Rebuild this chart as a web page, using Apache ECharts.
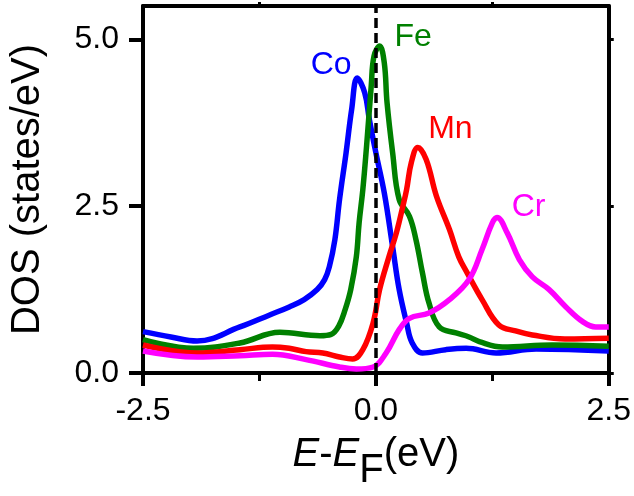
<!DOCTYPE html>
<html>
<head>
    <meta charset="utf-8">
    <title>DOS</title>
    <script src="https://cdn.jsdelivr.net/npm/echarts@6/dist/echarts.min.js"></script>
</head>
<body>
<style>
    html, body, #main {
        width: 100%;
        height: 100%;
        padding: 0;
        margin: 0;
        background: #fff;
    }
</style>

<div id="main"></div>

<script type="text/javascript">
// values: energy (eV) and DOS (states/eV)
var coE   = [-2.5, -2.2, -1.92, -1.46, -1.14, -0.93, -0.77, -0.63, -0.55, -0.5, -0.44, -0.39, -0.32, -0.26, -0.2, -0.12, -0.07, 0.0, 0.09, 0.18, 0.25, 0.33, 0.39, 0.5, 0.75, 0.97, 1.29, 1.72, 2.5];
var coDos = [0.62, 0.54, 0.48, 0.69, 0.87, 0.99, 1.1, 1.25, 1.4, 1.59, 2.0, 2.6, 3.3, 3.95, 4.42, 4.2, 3.8, 3.3, 2.7, 1.89, 1.25, 0.75, 0.45, 0.3, 0.35, 0.37, 0.3, 0.36, 0.33];

var feE   = [-2.5, -1.96, -1.46, -1.03, -0.6, -0.48, -0.4, -0.33, -0.27, -0.21, -0.18, -0.14, -0.1, -0.05, -0.02, 0.04, 0.09, 0.12, 0.18, 0.25, 0.36, 0.43, 0.5, 0.57, 0.68, 0.86, 1.0, 1.11, 1.36, 1.89, 2.5];
var feDos = [0.5, 0.37, 0.45, 0.61, 0.56, 0.58, 0.7, 0.95, 1.25, 1.74, 2.25, 2.75, 3.4, 4.3, 4.75, 4.9, 4.65, 4.05, 3.3, 2.6, 2.35, 2.0, 1.5, 1.05, 0.69, 0.6, 0.54, 0.47, 0.39, 0.42, 0.4];

var mnE   = [-2.5, -1.92, -1.46, -1.11, -0.93, -0.75, -0.57, -0.39, -0.25, -0.14, -0.03, 0.04, 0.14, 0.22, 0.29, 0.33, 0.38, 0.45, 0.54, 0.65, 0.79, 0.89, 0.98, 1.14, 1.32, 1.5, 1.68, 2.03, 2.5];
var mnDos = [0.42, 0.3, 0.35, 0.39, 0.37, 0.32, 0.3, 0.24, 0.21, 0.35, 0.75, 1.25, 1.74, 2.1, 2.5, 2.75, 3.15, 3.38, 3.2, 2.65, 2.15, 1.74, 1.5, 1.1, 0.72, 0.63, 0.57, 0.51, 0.52];

var crE   = [-2.5, -1.92, -1.46, -1.11, -0.75, -0.39, -0.21, -0.03, 0.11, 0.25, 0.36, 0.57, 0.79, 1.0, 1.14, 1.25, 1.3, 1.41, 1.54, 1.68, 1.86, 2.04, 2.22, 2.36, 2.5];
var crDos = [0.33, 0.24, 0.26, 0.28, 0.2, 0.09, 0.06, 0.09, 0.3, 0.65, 0.82, 0.9, 1.1, 1.4, 1.85, 2.25, 2.33, 2.1, 1.7, 1.44, 1.25, 0.99, 0.77, 0.69, 0.69];

var names  = ['Co', 'Fe', 'Mn', 'Cr'];
var colors = ['#0000ff', '#008000', '#ff0000', '#ff00ff'];
// where the element names sit, in data units
var tagPos = [[-0.48, 4.61], [0.40, 5.03], [0.80, 3.65], [1.64, 2.49]];

var yTicks = [0, 2.5, 5];
var font = 'Liberation Sans, Arial, sans-serif';

function pairs(xs, ys) {
    return xs.map(function (x, i) { return [x, ys[i]]; });
}

var chart = echarts.init(document.getElementById('main'));

var curves = [pairs(coE, coDos), pairs(feE, feDos), pairs(mnE, mnDos), pairs(crE, crDos)];

var series = curves.map(function (d, i) {
    return {
        name: names[i],
        type: 'line',
        data: d,
        smooth: 0.4,
        showSymbol: false,
        symbol: 'none',
        clip: true,
        lineStyle: { color: colors[i], width: 5.5 },
        itemStyle: { color: colors[i] },
        markPoint: {
            symbol: 'circle',
            symbolSize: 0,
            silent: true,
            label: {
                show: true,
                position: 'inside',
                color: colors[i],
                fontSize: 32,
                fontFamily: font,
                formatter: names[i]
            },
            data: [{ coord: tagPos[i] }]
        }
    };
});

// Fermi level
series[0].markLine = {
    silent: true,
    symbol: 'none',
    label: { show: false },
    lineStyle: { color: '#000', type: [10, 5], width: 3.5 },
    data: [{ xAxis: 0 }]
};

chart.setOption({
    animation: false,
    textStyle: { fontFamily: font },
    grid: { left: 143, right: 24, top: 6, bottom: 123 },
    xAxis: [{
        type: 'value',
        min: -2.5,
        max: 2.5,
        interval: 2.5,
        position: 'bottom',
        axisLine: { onZero: false, lineStyle: { color: '#000', width: 4 } },
        axisTick: { length: 13, lineStyle: { color: '#000', width: 4 } },
        minorTick: { show: true, splitNumber: 2, length: 8, lineStyle: { color: '#000', width: 3 } },
        splitLine: { show: false },
        axisLabel: {
            color: '#000', fontSize: 32, margin: 22,
            formatter: function (v) { return v.toFixed(1); }
        },
        name: '{i|E}{n|-}{i|E}{sub|F}{n|(eV)}',
        nameLocation: 'middle',
        nameGap: 62,
        nameTextStyle: {
            rich: {
                i: { fontSize: 40, fontStyle: 'italic', color: '#000', verticalAlign: 'top', fontFamily: font },
                n: { fontSize: 40, color: '#000', verticalAlign: 'top', fontFamily: font },
                sub: { fontSize: 40, color: '#000', verticalAlign: 'top', padding: [16, 0, 0, 0], fontFamily: font }
            }
        }
    }, {
        type: 'value',
        min: -2.5,
        max: 2.5,
        position: 'top',
        axisLine: { onZero: false, lineStyle: { color: '#000', width: 4 } },
        axisTick: { length: 4, customValues: [-1.25, 1.25], lineStyle: { color: '#000', width: 3 } },
        axisLabel: { show: false },
        splitLine: { show: false }
    }],
    yAxis: [{
        type: 'value',
        min: 0,
        max: 5.5,
        position: 'left',
        axisLine: { onZero: false, lineStyle: { color: '#000', width: 4 } },
        axisTick: { length: 14, customValues: yTicks, lineStyle: { color: '#000', width: 4 } },
        splitLine: { show: false },
        axisLabel: {
            color: '#000', fontSize: 32, margin: 24,
            customValues: yTicks,
            formatter: function (v) { return v.toFixed(1); }
        },
        name: 'DOS (states/eV)',
        nameLocation: 'middle',
        nameGap: 95,
        nameTextStyle: { color: '#000', fontSize: 40, fontFamily: font }
    }, {
        type: 'value',
        min: 0,
        max: 5.5,
        position: 'right',
        axisLine: { onZero: false, lineStyle: { color: '#000', width: 4 } },
        axisTick: { length: 5, customValues: yTicks, lineStyle: { color: '#000', width: 3 } },
        axisLabel: { show: false },
        splitLine: { show: false }
    }],
    series: series
});
</script>
</body>
</html>
